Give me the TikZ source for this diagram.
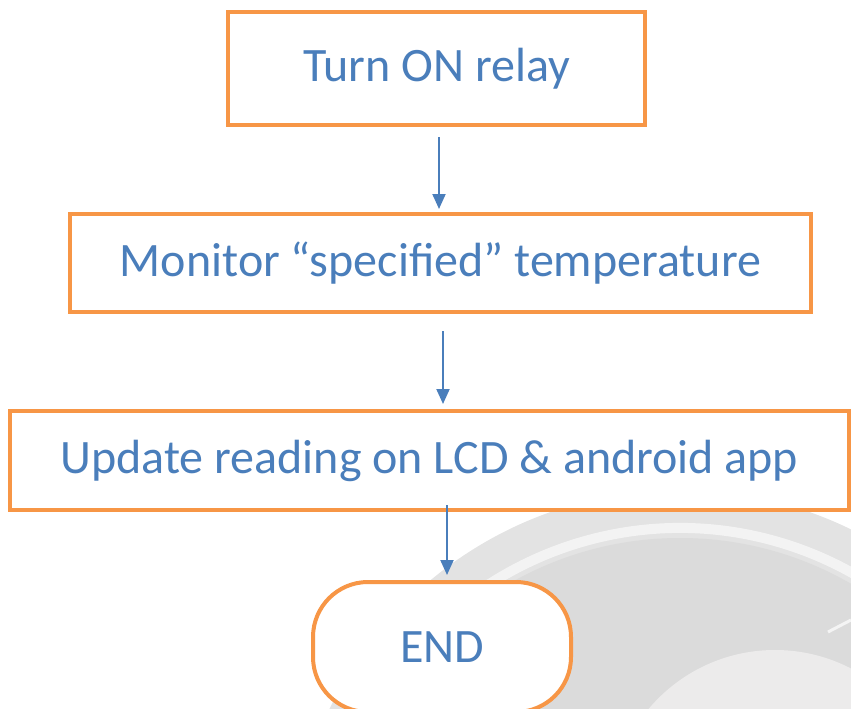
\documentclass[tikz,border=0pt]{standalone}
\usepackage{fontspec}
\setmainfont{Carlito}
\usetikzlibrary{arrows.meta}
\definecolor{boxorange}{HTML}{F79646}
\definecolor{txtblue}{HTML}{4A7EBB}
\tikzset{
  stepbox/.style={draw=boxorange, line width=4pt, fill=white, text=txtblue,
    font=\fontsize{48}{52}\selectfont, inner sep=0pt},
  arr/.style={draw=txtblue, line width=2pt, -{Triangle[length=15pt,width=13pt]}}
}
\begin{document}
\begin{tikzpicture}[x=1pt,y=-1pt]
\useasboundingbox (0,0) rectangle (851,709);
% faint watermark
\begin{scope}
\clip (0,0) rectangle (851,709);
\fill[black!11] (680,880) circle (390);
\draw[white, opacity=0.6, line width=10pt] (680,880) ++(200:352) arc (200:330:352);
\fill[black!14] (680,880) circle (342);
\fill[orange!8!black!8] (775,815) circle (165);
\draw[white, opacity=0.7, line width=3pt] (828,632) -- (851,620);
\end{scope}
\node[stepbox, minimum width=417pt, minimum height=113pt] (b1) at (436.5,68.5) {Turn ON relay};
\node[stepbox, minimum width=741pt, minimum height=98pt] (b2) at (440.5,263) {Monitor “specified” temperature};
\node[stepbox, minimum width=839pt, minimum height=99pt] (b3) at (429.5,460.5) {Update reading on LCD \& android app};
\node[stepbox, minimum width=258pt, minimum height=130pt, rounded corners=55pt] (e) at (442,647) {END};
\draw[arr, shorten <=10pt, shorten >=3pt] ([xshift=2.5pt]b1.south) -- ([xshift=2.5pt]b1.south |- b2.north);
\draw[arr, shorten <=17pt, shorten >=5pt] ([xshift=2.5pt]b2.south) -- ([xshift=2.5pt]b2.south |- b3.north);
\draw[arr, shorten <=-7pt, shorten >=5pt] ([xshift=17.5pt]b3.south) -- ([xshift=17.5pt]b3.south |- e.north);
\end{tikzpicture}
\end{document}
